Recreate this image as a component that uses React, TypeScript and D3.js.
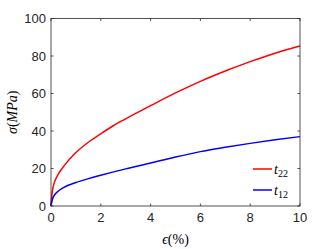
import React from 'react';
import * as d3 from 'd3';

// strain (%) and stress (MPa)
const strainT22 = [0, 0.05, 0.1, 0.25, 0.5, 1, 1.5, 2, 2.5, 3, 4, 5, 6, 7, 8, 9, 10];
const stressT22 = [0, 7.5, 11, 16, 21, 28.5, 34, 38.5, 42.8, 46.5, 53.5, 60.3, 66.5, 72, 77, 81.5, 85.3];
const strainT12 = [0, 0.05, 0.1, 0.25, 0.5, 1, 1.5, 2, 3, 4, 5, 6, 7, 8, 9, 10];
const stressT12 = [0, 3.2, 5, 7.5, 9.8, 12.5, 14.6, 16.4, 19.8, 22.9, 26.1, 29, 31.3, 33.4, 35.3, 37];
const xTicks = [0, 2, 4, 6, 8, 10];
const yTicks = [0, 20, 40, 60, 80, 100];

const series = [
  { name: '22', color: '#ff0000', xs: strainT22, ys: stressT22 },
  { name: '12', color: '#0000ff', xs: strainT12, ys: stressT12 },
];

export default function App() {
  const width = 332;
  const height = 249;
  const margin = { left: 51, right: 32, top: 18.5, bottom: 43 };
  const x = d3.scaleLinear().domain([0, 10]).range([margin.left, width - margin.right]);
  const y = d3.scaleLinear().domain([0, 100]).range([height - margin.bottom, margin.top]);
  const axisColor = '#262626';
  const tickLen = 2.5;
  const line = d3
    .line<[number, number]>()
    .x(d => x(d[0]))
    .y(d => y(d[1]))
    .curve(d3.curveMonotoneX);

  const x0 = x.range()[0], x1 = x.range()[1];
  const y0 = y.range()[0], y1 = y.range()[1];

  return (
    <svg
      width={width}
      height={height}
      style={{ position: 'absolute', left: 0, top: 0, background: '#fff' }}
      fontFamily="'Liberation Sans', Arial, sans-serif"
    >
      <rect width={width} height={height} fill="#fff" />
      {series.map(s => (
        <path
          key={s.name}
          d={line(s.xs.map((v, i) => [v, s.ys[i]] as [number, number])) || ''}
          fill="none"
          stroke={s.color}
          strokeWidth={1.5}
        />
      ))}
      {/* box */}
      <rect x={x0} y={y1} width={x1 - x0} height={y0 - y1} fill="none" stroke={axisColor} strokeWidth={0.8} />
      {xTicks.map(t => (
        <g key={'x' + t}>
          <line x1={x(t)} x2={x(t)} y1={y0} y2={y0 - tickLen} stroke={axisColor} strokeWidth={0.8} />
          <line x1={x(t)} x2={x(t)} y1={y1} y2={y1 + tickLen} stroke={axisColor} strokeWidth={0.8} />
          <text x={x(t)} y={y0 + 15.5} textAnchor="middle" fontSize={13} fill={axisColor}>
            {t}
          </text>
        </g>
      ))}
      {yTicks.map(t => (
        <g key={'y' + t}>
          <line x1={x0} x2={x0 + tickLen} y1={y(t)} y2={y(t)} stroke={axisColor} strokeWidth={0.8} />
          <line x1={x1} x2={x1 - tickLen} y1={y(t)} y2={y(t)} stroke={axisColor} strokeWidth={0.8} />
          <text x={x0 - 5} y={y(t) + 4.5} textAnchor="end" fontSize={13} fill={axisColor}>
            {t}
          </text>
        </g>
      ))}
      {/* axis labels */}
      <text
        x={(x0 + x1) / 2}
        y={244}
        textAnchor="middle"
        fontSize={14}
        fontFamily="'Liberation Serif', 'DejaVu Serif', serif"
        fill="#000"
      >
        <tspan fontStyle="italic">ϵ</tspan>(%)
      </text>
      <text
        transform={`translate(17, ${(y0 + y1) / 2}) rotate(-90)`}
        textAnchor="middle"
        fontSize={14}
        fontFamily="'Liberation Serif', 'DejaVu Serif', serif"
        fill="#000"
      >
        <tspan fontStyle="italic">σ</tspan>(<tspan fontStyle="italic">MPa</tspan>)
      </text>
      {/* legend */}
      {series.map((s, i) => (
        <g key={'l' + s.name} transform={`translate(253, ${169 + i * 21})`}>
          <line x1={0} x2={19} y1={0} y2={0} stroke={s.color} strokeWidth={1.5} />
          <text
            x={21}
            y={5}
            fontSize={14}
            fontFamily="'Liberation Serif', 'DejaVu Serif', serif"
            fill="#000"
          >
            <tspan fontStyle="italic">t</tspan>
            <tspan fontSize={10} dy={3}>
              {s.name}
            </tspan>
          </text>
        </g>
      ))}
    </svg>
  );
}
